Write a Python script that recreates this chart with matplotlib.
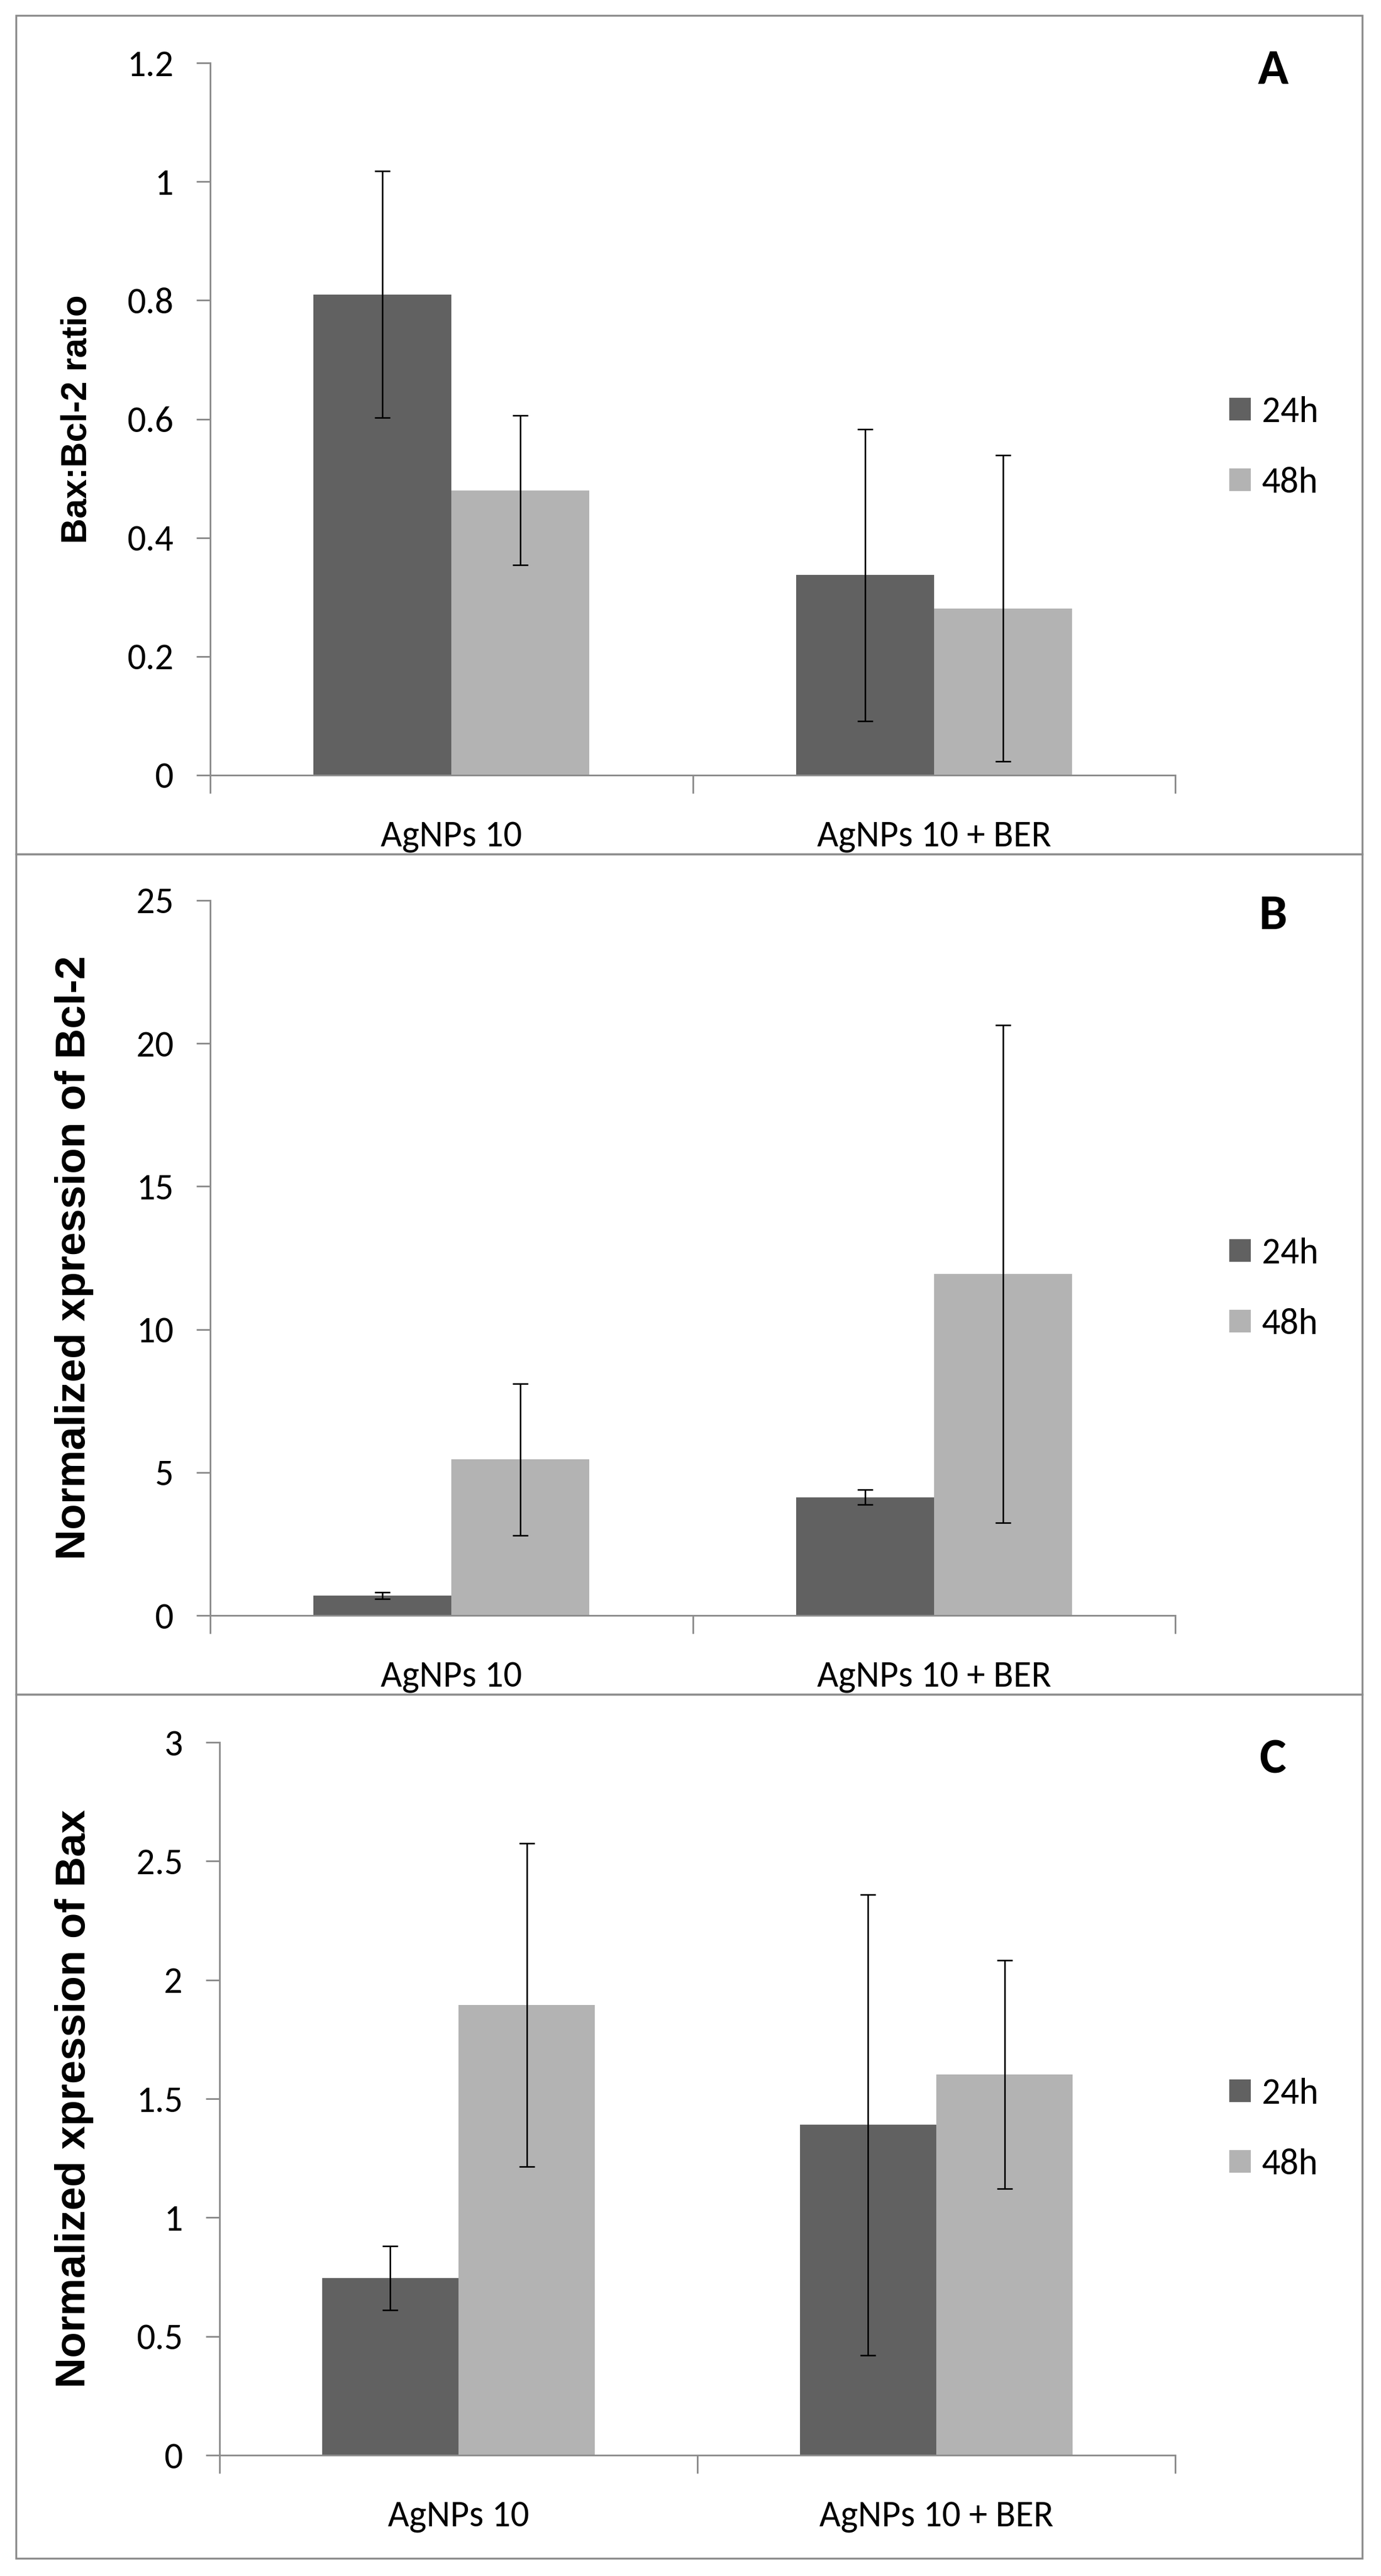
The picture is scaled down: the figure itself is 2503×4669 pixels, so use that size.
#!/usr/bin/env python3
"""
Bax / Bcl-2 expression after AgNPs 10 with and without BER, 24h vs 48h.
"""

import matplotlib
matplotlib.use("Agg")
import matplotlib.pyplot as plt
from matplotlib import font_manager
from matplotlib.patches import Rectangle
import numpy as np

groups = ["AgNPs 10", "AgNPs 10 + BER"]
series = ["24h", "48h"]

ratio_24h = [0.81, 0.337]
ratio_24h_err = [0.208, 0.246]
ratio_48h = [0.48, 0.281]
ratio_48h_err = [0.126, 0.258]

bcl2_24h = [0.69, 4.13]
bcl2_24h_err = [0.12, 0.26]
bcl2_48h = [5.45, 11.95]
bcl2_48h_err = [2.66, 8.7]

bax_24h = [0.745, 1.39]
bax_24h_err = [0.135, 0.97]
bax_48h = [1.895, 1.602]
bax_48h_err = [0.68, 0.48]

W, H = 2503, 4669
DARK = "#616161"
LIGHT = "#b3b3b3"
AXIS_GRAY = "#8c8c8c"
BORDER_GRAY = "#8c8c8c"

# pick a narrow face if one is around, otherwise fall back
names = {f.name for f in font_manager.fontManager.ttflist}
narrow = [n for n in ("Liberation Sans Narrow", "Carlito", "DejaVu Sans Condensed",
                      "Roboto Condensed", "Open Sans Condensed", "Roboto")
          if n in names]
TICK_FONT = narrow[:1] + ["DejaVu Sans"]
LABEL_FONT = ["Liberation Sans", "DejaVu Sans"]
plt.rcParams["font.family"] = TICK_FONT


def fig_rect(left, top, right, bottom):
    return [left / W, 1 - bottom / H, (right - left) / W, (bottom - top) / H]


def draw_panel(fig, rect, v24, e24, v48, e48, ymax, ystep, ylabel, ylabel_size,
               letter, letter_xy, legend_y):
    ax = fig.add_axes(fig_rect(*rect))
    x = np.arange(len(groups))
    w = 1 / 3.5
    b1 = ax.bar(x - w / 2, v24, w, color=DARK, label=series[0], zorder=2)
    b2 = ax.bar(x + w / 2, v48, w, color=LIGHT, label=series[1], zorder=2)
    for xs, vals, errs in ((x - w / 2, v24, e24), (x + w / 2, v48, e48)):
        ax.errorbar(xs, vals, yerr=errs, fmt="none", ecolor="black",
                    elinewidth=2.0, capsize=10, capthick=2.0, zorder=3)

    ticks = np.arange(0, ymax + ystep / 2, ystep)
    ax.set_xlim(-0.5, len(groups) - 0.5)
    ax.set_ylim(0, ymax)
    ax.set_yticks(ticks)
    ax.set_yticklabels([f"{t:g}" for t in ticks])
    ax.set_xticks(x)
    ax.set_xticklabels(groups)
    ax.set_xticks(np.arange(-0.5, len(groups)), minor=True)

    for side in ("top", "right"):
        ax.spines[side].set_visible(False)
    for side in ("left", "bottom"):
        ax.spines[side].set_color(AXIS_GRAY)
        ax.spines[side].set_linewidth(2.2)

    ax.tick_params(axis="y", direction="out", length=18, width=2.2,
                   color=AXIS_GRAY, labelsize=48, pad=30)
    ax.tick_params(axis="x", which="major", length=0, labelsize=48, pad=60)
    ax.tick_params(axis="x", which="minor", direction="out", length=24,
                   width=2.2, color=AXIS_GRAY)

    ax.set_ylabel(ylabel, fontsize=ylabel_size, fontweight="bold",
                  family=LABEL_FONT)
    ax.yaxis.set_label_coords((170 - rect[0]) / (rect[2] - rect[0]), 0.5)

    fig.text(letter_xy[0] / W, 1 - letter_xy[1] / H, letter, fontsize=66,
             fontweight="bold", ha="left", va="top")

    fig.legend(handles=[b1, b2], labels=series, loc="center left",
               bbox_to_anchor=(2228 / W, 1 - legend_y / H), frameon=False,
               fontsize=48, handlelength=0.58, handleheight=0.58,
               handletextpad=0.3, labelspacing=1.05, borderpad=0,
               borderaxespad=0)
    return ax


def main():
    fig = plt.figure(figsize=(W / 100, H / 100), dpi=100)

    # panel frames
    for top, bottom in ((28, 1548), (1548, 3071), (3071, 4637)):
        fig.add_artist(Rectangle((29 / W, 1 - bottom / H), (2469 - 29) / W,
                                 (bottom - top) / H, transform=fig.transFigure,
                                 fill=False, edgecolor=BORDER_GRAY, linewidth=2.5))

    draw_panel(fig, (381, 114, 2130, 1405), ratio_24h, ratio_24h_err,
               ratio_48h, ratio_48h_err, 1.2, 0.2, "Bax:Bcl-2 ratio", 46,
               "A", (2280, 88), 811)
    draw_panel(fig, (381, 1632, 2130, 2928), bcl2_24h, bcl2_24h_err,
               bcl2_48h, bcl2_48h_err, 25, 5, "Normalized xpression of Bcl-2", 55,
               "B", (2282, 1620), 2336)
    draw_panel(fig, (398, 3158, 2130, 4450), bax_24h, bax_24h_err,
               bax_48h, bax_48h_err, 3, 0.5, "Normalized xpression of Bax", 55,
               "C", (2282, 3150), 3859)

    fig.savefig("out.png", dpi=100, facecolor="white")
    plt.close(fig)


if __name__ == "__main__":
    main()
